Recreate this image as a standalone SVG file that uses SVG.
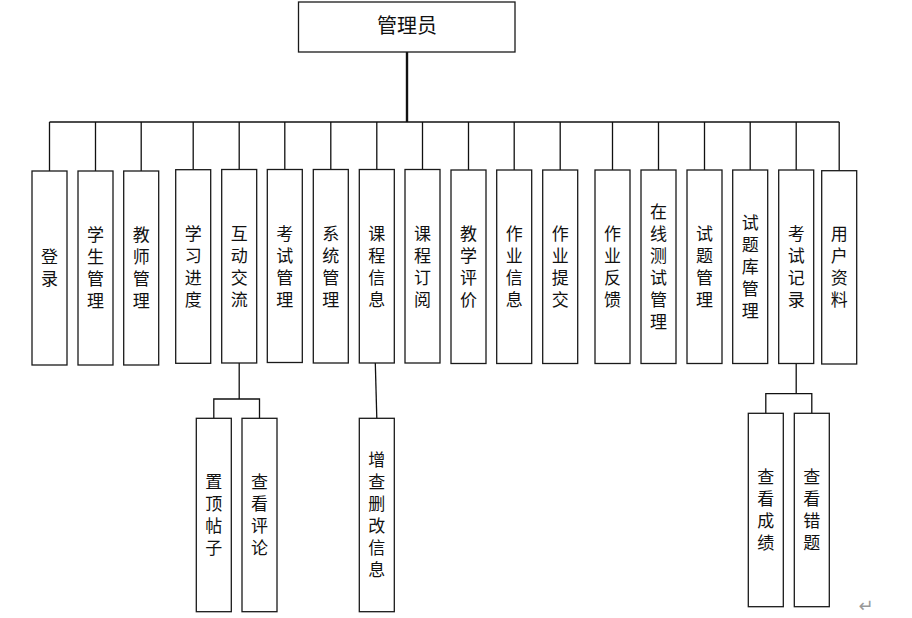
<svg xmlns="http://www.w3.org/2000/svg" width="912" height="618" viewBox="0 0 912 618">
<style>
.box{fill:#fff;stroke:#1a1a1a;stroke-width:1.3}
.ln{fill:none;stroke:#111;stroke-width:1.3}
.t{font-family:"Noto Sans CJK SC","Noto Sans CJK JP",sans-serif;font-size:17px;fill:#111;text-anchor:middle}
.v{writing-mode:vertical-rl;letter-spacing:5px}
</style>
<rect width="912" height="618" fill="#fff"/>
<g id="connectors">
<line class="ln" x1="407" y1="52" x2="407" y2="122" style="stroke-width:2.4"/>
<line class="ln" x1="49.5" y1="122" x2="839.2" y2="122"/>
<path class="ln" d="M49.5 122V171M95.5 122V171M141.2 122V171M193.2 122V169.7M239.2 122V169.5M284.8 122V169.5M330.8 122V169.5M376.8 122V169.5M422.5 122V169.5M468.5 122V170M514.2 122V170M560.2 122V170M612.5 122V170M658.5 122V170M704.5 122V170M750.2 122V170M796.2 122V170M839.2 122V170.7"/>
<path class="ln" d="M239.2 363V399M213.8 418.3V399H259.5V418.3"/>
<line class="ln" x1="375.3" y1="363" x2="376.8" y2="418.3"/>
<path class="ln" d="M796.2 363.5V393.7M765.8 413.3V393.7H811.8V413.3"/>
</g>
<g id="n-admin"><rect class="box" x="298.5" y="2" width="216.5" height="50"/><text class="t" x="407" y="33" style="font-size:20px">管理员</text></g>
<g id="n1"><rect class="box" x="32" y="171" width="35" height="194"/><text class="t v" x="49.5" y="270.5">登录</text></g>
<g id="n2"><rect class="box" x="78" y="171" width="35" height="194"/><text class="t v" x="95.5" y="270.5">学生管理</text></g>
<g id="n3"><rect class="box" x="123.7" y="171" width="35" height="194"/><text class="t v" x="141.2" y="270.5">教师管理</text></g>
<g id="n4"><rect class="box" x="175.7" y="169.7" width="35" height="193.6"/><text class="t v" x="193.2" y="269">学习进度</text></g>
<g id="n5"><rect class="box" x="221.7" y="169.5" width="35" height="193.5"/><text class="t v" x="239.2" y="269">互动交流</text></g>
<g id="n6"><rect class="box" x="267.3" y="169.5" width="35" height="193"/><text class="t v" x="284.8" y="269">考试管理</text></g>
<g id="n7"><rect class="box" x="313.3" y="169.5" width="35" height="193.5"/><text class="t v" x="330.8" y="269">系统管理</text></g>
<g id="n8"><rect class="box" x="359.3" y="169.5" width="35" height="193.5"/><text class="t v" x="376.8" y="269">课程信息</text></g>
<g id="n9"><rect class="box" x="405" y="169.5" width="35" height="193.5"/><text class="t v" x="422.5" y="269">课程订阅</text></g>
<g id="n10"><rect class="box" x="451" y="170" width="35" height="193.5"/><text class="t v" x="468.5" y="269">教学评价</text></g>
<g id="n11"><rect class="box" x="496.7" y="170" width="35" height="193.5"/><text class="t v" x="514.2" y="269">作业信息</text></g>
<g id="n12"><rect class="box" x="542.7" y="170" width="35" height="193.5"/><text class="t v" x="560.2" y="269">作业提交</text></g>
<g id="n13"><rect class="box" x="595" y="170" width="35" height="193.5"/><text class="t v" x="612.5" y="269">作业反馈</text></g>
<g id="n14"><rect class="box" x="641" y="170" width="35" height="193.5"/><text class="t v" x="658.5" y="269">在线测试管理</text></g>
<g id="n15"><rect class="box" x="687" y="170" width="35" height="193.5"/><text class="t v" x="704.5" y="269">试题管理</text></g>
<g id="n16"><rect class="box" x="732.7" y="170" width="35" height="193.5"/><text class="t v" x="750.2" y="269">试题库管理</text></g>
<g id="n17"><rect class="box" x="778.7" y="170" width="35" height="193.5"/><text class="t v" x="796.2" y="269">考试记录</text></g>
<g id="n18"><rect class="box" x="821.7" y="170.7" width="35" height="193.3"/><text class="t v" x="839.2" y="269">用户资料</text></g>
<g id="c1"><rect class="box" x="196.3" y="418.3" width="35" height="193.4"/><text class="t v" x="213.8" y="517.5">置顶帖子</text></g>
<g id="c2"><rect class="box" x="242" y="418.3" width="35" height="193.4"/><text class="t v" x="259.5" y="517.5">查看评论</text></g>
<g id="c3"><rect class="box" x="359.3" y="418.3" width="35" height="193.4"/><text class="t v" x="376.8" y="517.5">增查删改信息</text></g>
<g id="c4"><rect class="box" x="748.3" y="413.3" width="35" height="193.4"/><text class="t v" x="765.8" y="512.5">查看成绩</text></g>
<g id="c5"><rect class="box" x="794.3" y="413.3" width="35" height="193.4"/><text class="t v" x="811.8" y="512.5">查看错题</text></g>
<text x="866" y="612" style="font-family:'DejaVu Sans',sans-serif;font-size:18px;fill:#999;text-anchor:middle">↵</text>
</svg>
